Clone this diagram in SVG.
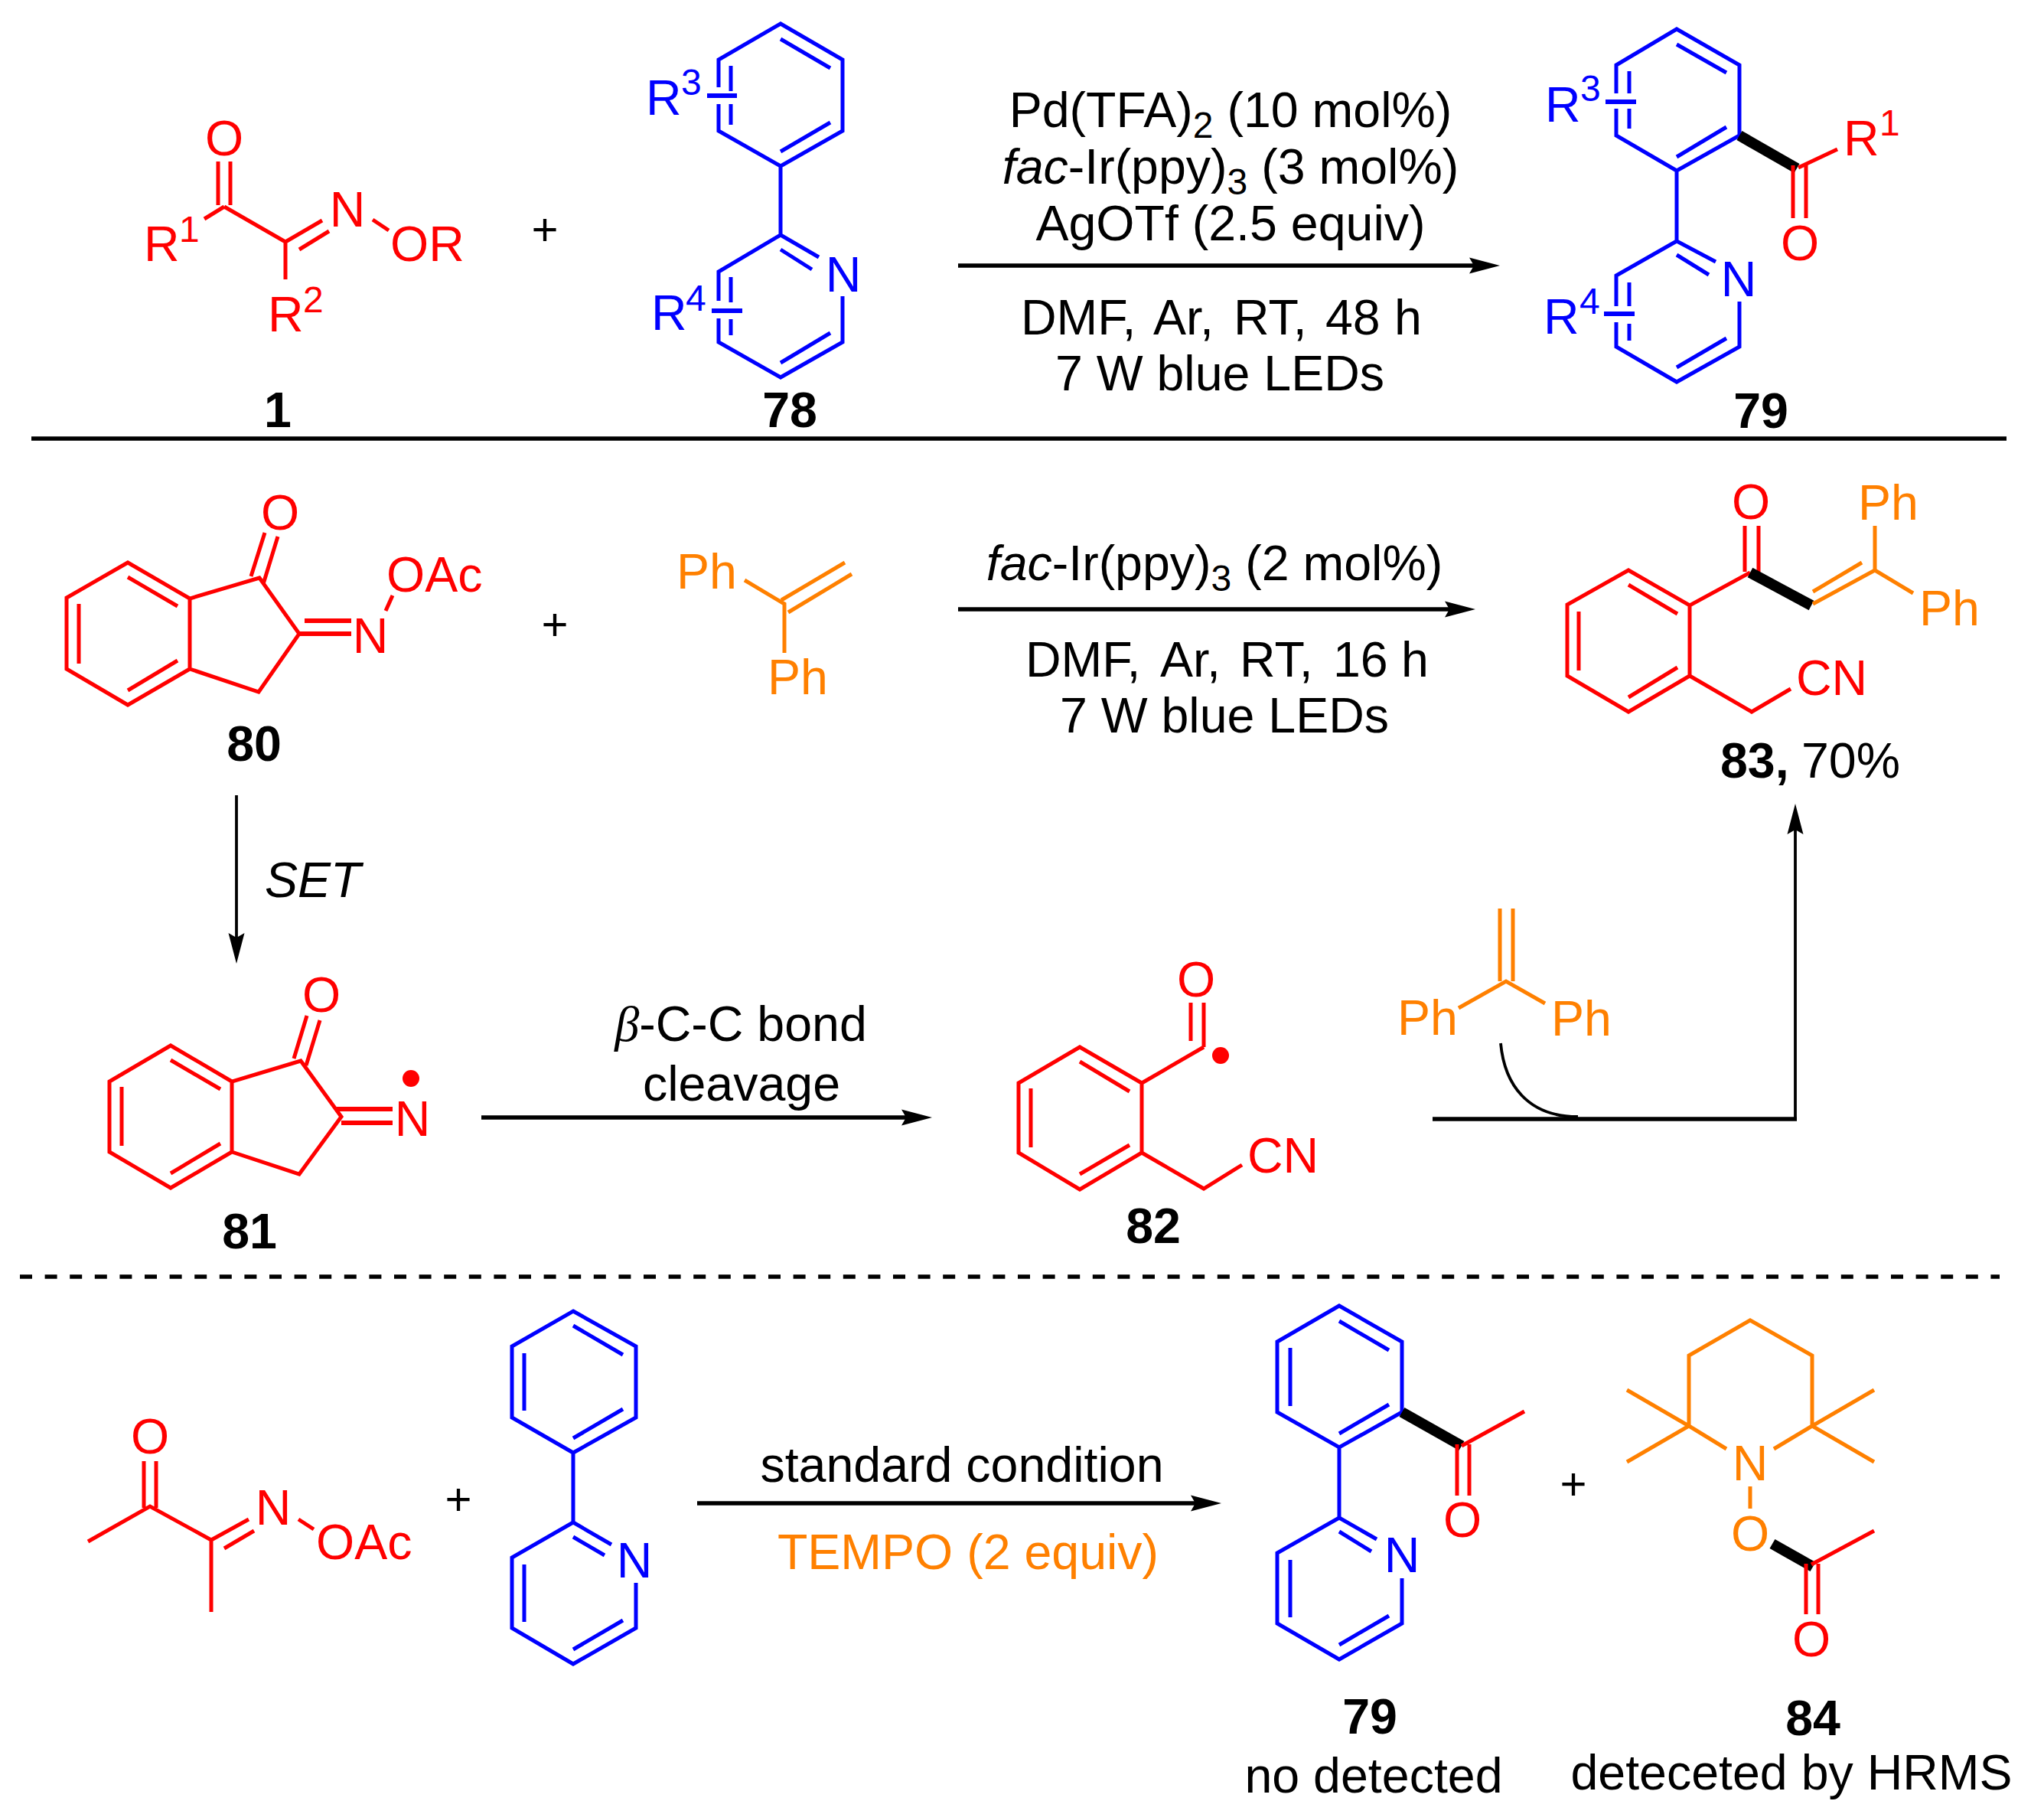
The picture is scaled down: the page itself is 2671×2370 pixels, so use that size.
<svg xmlns="http://www.w3.org/2000/svg" width="2671" height="2370" viewBox="0 0 2671 2370">
<style>
text{font-family:"Liberation Sans",Arial,sans-serif;font-size:64.500px;fill:#000;white-space:pre}
.m{text-anchor:middle}
.s{font-size:48px}
.p{font-size:60px}
.i{font-style:italic}
.bd{font-weight:bold}
path{fill:none;stroke-width:5;stroke-linejoin:miter;stroke-linecap:butt}
.r path{stroke:#f00}.r text,.r circle{fill:#f00}
.u path{stroke:#00f}.u text{fill:#00f}
.o path{stroke:#ff8000}.o text{fill:#ff8000}
path.w{stroke:#000;stroke-width:14}
path.d{stroke-width:6}
.k path{stroke:#000}
path.h{stroke-width:5.500}
path.v{stroke-width:3.800}
path.a{marker-end:url(#ah)}
</style>
<defs>
<marker id="ah" markerUnits="userSpaceOnUse" markerWidth="42" markerHeight="22" refX="6" refY="11" orient="auto" viewBox="0 0 42 22"><path d="M0 .5L40 11L0 21.500L6 11Z" style="fill:#000;stroke:none"/></marker>
</defs>
<rect width="2671" height="2370" fill="#fff"/>

<g id="connectors" class="k">
<path class="h" d="M41 573H2622"/>
<path class="h" d="M26 1668H2613" stroke-dasharray="16 16.600"/>
<path class="h a" d="M1252 347H1926"/>
<path class="h a" d="M1252 796H1894"/>
<path class="v a" d="M309 1039V1225"/>
<path class="h a" d="M629 1460H1184"/>
<path class="h" d="M1872 1462H2348"/>
<path class="v a" d="M2346 1464V1084"/>
<path class="v" d="M1961 1363C1966 1417 1996 1459 2062 1459"/>
<path class="h a" d="M911 1964H1562"/>
</g>

<g id="mol-1">
<g class="r">
<path d="M285 211V268M301 211V268M293 270L267 286M293 270L373 316V365M373 316L421 288M391 326L430 302M487 287L508 301"/>
<text class="m" x="293" y="203">O</text>
<text x="188" y="341">R</text><text class="s" x="234" y="316">1</text>
<text class="m" x="454" y="296">N</text>
<text x="510" y="341">OR</text>
<text x="350" y="433">R</text><text class="s" x="396" y="408">2</text>
</g>
<text class="bd m" x="363" y="558">1</text>
</g>
<g id="plus-1"><text class="m p" x="712" y="320">+</text></g>

<g id="mol-78">
<g class="u">
<path d="M1020 217L939 171V136M939 114V78L1020 31L1101 78V171L1020 217V307L1070 336M1020 326L1061 352M1101 387V447L1020 493L939 447V416M939 393V355L1020 307M1020 51L1085 89M1020 198L1085 160M955 86V119M955 136V163M1020 474L1085 435M955 362V395M955 417V438"/>
<path class="d" d="M924 125H963M930 406H970"/>
<text x="844" y="150">R</text><text class="s" x="890" y="124">3</text>
<text x="851" y="431">R</text><text class="s" x="896" y="406">4</text>
<text class="m" x="1102" y="381">N</text>
</g>
<text class="bd m" x="1032" y="558">78</text>
</g>

<g id="conditions-1">
<text class="m" x="1608" y="166">Pd(TFA)<tspan class="s" dy="14">2</tspan><tspan dy="-14"> (10 mol%)</tspan></text>
<text class="m" x="1608" y="240"><tspan class="i">fac</tspan>-Ir(ppy)<tspan class="s" dy="14">3</tspan><tspan dy="-14"> (3 mol%)</tspan></text>
<text class="m" x="1608" y="314">AgOTf (2.5 equiv)</text>
<text y="437"><tspan x="1334">DMF, </tspan><tspan x="1507">Ar, </tspan><tspan x="1612">RT, </tspan><tspan x="1732">48 </tspan><tspan x="1822">h</tspan></text>
<text class="m" x="1594" y="510">7 W blue LEDs</text>
</g>

<g id="mol-79">
<g class="u">
<path d="M2191 223L2112 177V142M2112 122V85L2191 38L2273 85V177L2191 223V315L2242 342M2191 333L2233 359M2273 394V453L2191 499L2112 453V421M2112 400V360L2191 315M2191 58L2256 95M2191 205L2256 166M2129 93V122M2129 142V168M2191 480L2256 442M2129 369V400M2129 423V445"/>
<path class="d" d="M2098 133H2138M2096 410H2136"/>
<text x="2019" y="159">R</text><text class="s" x="2065" y="132">3</text>
<text x="2017" y="436">R</text><text class="s" x="2064" y="410">4</text>
<text class="m" x="2272" y="387">N</text>
</g>
<path class="w" d="M2273 177L2348 220"/>
<g class="r">
<path d="M2343 216V285M2360 216V285M2350 219L2401 195"/>
<text class="m" x="2352" y="340">O</text>
<text x="2409" y="203">R</text><text class="s" x="2456" y="177">1</text>
</g>
<text class="bd m" x="2301" y="559">79</text>
</g>

<g id="mol-80">
<g class="r">
<path d="M248 782L167 735L87 781V874L167 921L248 874V782L339 755L391 828L338 904L248 874M167 754L232 792M167 902L232 863M103 789V867M328 753L346 696M344 763L363 701"/>
<path class="d" d="M391 828H459M398 811H459"/>
<path d="M504 798L513 778"/>
<text class="m" x="366" y="692">O</text>
<text class="m" x="484" y="853">N</text>
<text x="505" y="773">OAc</text>
</g>
<text class="bd m" x="332" y="994">80</text>
</g>
<g id="plus-2"><text class="m p" x="725" y="836">+</text></g>

<g id="alkene-1">
<g class="o">
<path d="M973 758L1025 789V853M1021 784L1104 735M1030 800L1113 750"/>
<text x="884" y="769">Ph</text>
<text x="1003" y="907">Ph</text>
</g>
</g>

<g id="conditions-2">
<text class="m" x="1587" y="758"><tspan class="i">fac</tspan>-Ir(ppy)<tspan class="s" dy="14">3</tspan><tspan dy="-14"> (2 mol%)</tspan></text>
<text y="884"><tspan x="1340">DMF, </tspan><tspan x="1516">Ar, </tspan><tspan x="1620">RT, </tspan><tspan x="1742">16 </tspan><tspan x="1831">h</tspan></text>
<text class="m" x="1600" y="957">7 W blue LEDs</text>
</g>

<g id="mol-83">
<g class="r">
<path d="M2287 748L2208 791L2128 745L2048 790V883L2128 930L2208 883V791M2128 764L2192 802M2128 911L2192 872M2063 799V876M2280 687V747M2298 687V747M2208 883L2289 930L2340 900"/>
<text class="m" x="2288" y="678">O</text>
<text x="2347" y="908">CN</text>
</g>
<path class="w" d="M2287 748L2367 791"/>
<g class="o">
<path d="M2369 789L2450 745V687M2369 773L2433 735M2450 745L2500 775"/>
<text x="2428" y="679">Ph</text>
<text x="2508" y="817">Ph</text>
</g>
<text y="1016"><tspan class="bd" x="2248">83, </tspan><tspan x="2354">70%</tspan></text>
</g>

<g id="set-label"><text class="i" x="346" y="1172">SET</text></g>

<g id="mol-81">
<g class="r">
<path d="M303 1413L223 1366L143 1413V1505L223 1552L303 1505V1413L393 1386L446 1459L391 1534L303 1505M223 1385L288 1423M223 1533L288 1494M159 1420V1497M384 1383L401 1327M400 1392L418 1333"/>
<path class="d" d="M440 1449H513M446 1467H513"/>
<text class="m" x="420" y="1322">O</text>
<text class="m" x="539" y="1484">N</text>
<circle cx="537" cy="1409" r="11"/>
</g>
<text class="bd m" x="326" y="1631">81</text>
</g>

<g id="cleavage-label">
<text class="m" x="968" y="1360"><tspan class="i" style="font-family:'Liberation Serif',serif">β</tspan>-C-C bond</text>
<text class="m" x="969" y="1438">cleavage</text>
</g>

<g id="mol-82">
<g class="r">
<path d="M1573 1368L1492 1415L1411 1368L1331 1415V1506L1411 1554L1492 1506V1415M1411 1387L1476 1426M1411 1534L1476 1496M1347 1422V1499M1556 1310V1360M1573 1310V1368M1492 1506L1573 1553L1623 1522"/>
<text class="m" x="1563" y="1302">O</text>
<circle cx="1595" cy="1379" r="11"/>
<text x="1630" y="1532">CN</text>
</g>
<text class="bd m" x="1507" y="1624">82</text>
</g>

<g id="alkene-2">
<g class="o">
<path d="M1960 1187V1282M1977 1187V1282M1906 1317L1968 1282L2019 1311"/>
<text x="1826" y="1352">Ph</text>
<text x="2027" y="1353">Ph</text>
</g>
</g>

<g id="mol-left-3">
<g class="r">
<path d="M188 1909V1970M204 1909V1970M115 2014L196 1968L276 2012V2106M276 2012L325 1985M293 2023L332 2000M390 1985L410 1998"/>
<text class="m" x="196" y="1899">O</text>
<text class="m" x="357" y="1992">N</text>
<text x="413" y="2037">OAc</text>
</g>
</g>
<g id="plus-3"><text class="m p" x="599" y="1979">+</text></g>

<g id="mol-ppy">
<g class="u">
<path d="M749 1713L831 1759V1852L749 1898L669 1852V1759ZM749 1732L814 1770M749 1879L814 1841M685 1768V1843M749 1898V1989L799 2018M749 2008L790 2032M831 2068V2127L749 2174L669 2127V2035L749 1989M749 2155L814 2117M685 2044V2119"/>
<text class="m" x="829" y="2061">N</text>
</g>
</g>

<g id="conditions-3">
<text class="m" x="1257" y="1936">standard condition</text>
<g class="o"><text class="m" x="1265" y="2050">TEMPO (2 equiv)</text></g>
</g>

<g id="mol-79b">
<g class="u">
<path d="M1750 1706L1832 1753V1845L1750 1891L1669 1845V1753ZM1750 1726L1815 1764M1750 1873L1815 1835M1686 1761V1837M1750 1891V1983L1799 2011M1750 2001L1792 2027M1832 2062V2121L1750 2168L1669 2121V2029L1750 1983M1750 2149L1815 2111M1686 2038V2113"/>
<text class="m" x="1832" y="2054">N</text>
</g>
<path class="w" d="M1832 1845L1910 1889"/>
<g class="r">
<path d="M1904 1887V1954M1920 1887V1954M1910 1889L1992 1844"/>
<text class="m" x="1911" y="2008">O</text>
</g>
<text class="bd m" x="1790" y="2265">79</text>
<text class="m" x="1795" y="2342">no detected</text>
</g>
<g id="plus-4"><text class="m p" x="2056" y="1959">+</text></g>

<g id="mol-84">
<g class="o">
<path d="M2256 1893L2207 1863V1771L2287 1725L2368 1771V1863L2318 1893M2126 1816L2207 1863L2126 1910M2449 1816L2368 1863L2449 1910M2287 1942V1971"/>
<text class="m" x="2287" y="1934">N</text>
<text class="m" x="2287" y="2026">O</text>
</g>
<path class="w" d="M2316 2017L2369 2047"/>
<g class="r">
<path d="M2360 2043V2109M2376 2043V2109M2367 2044L2449 2000"/>
<text class="m" x="2367" y="2164">O</text>
</g>
<text class="bd m" x="2369" y="2267">84</text>
<text class="m" x="2341" y="2338">deteceted by HRMS</text>
</g>
</svg>
